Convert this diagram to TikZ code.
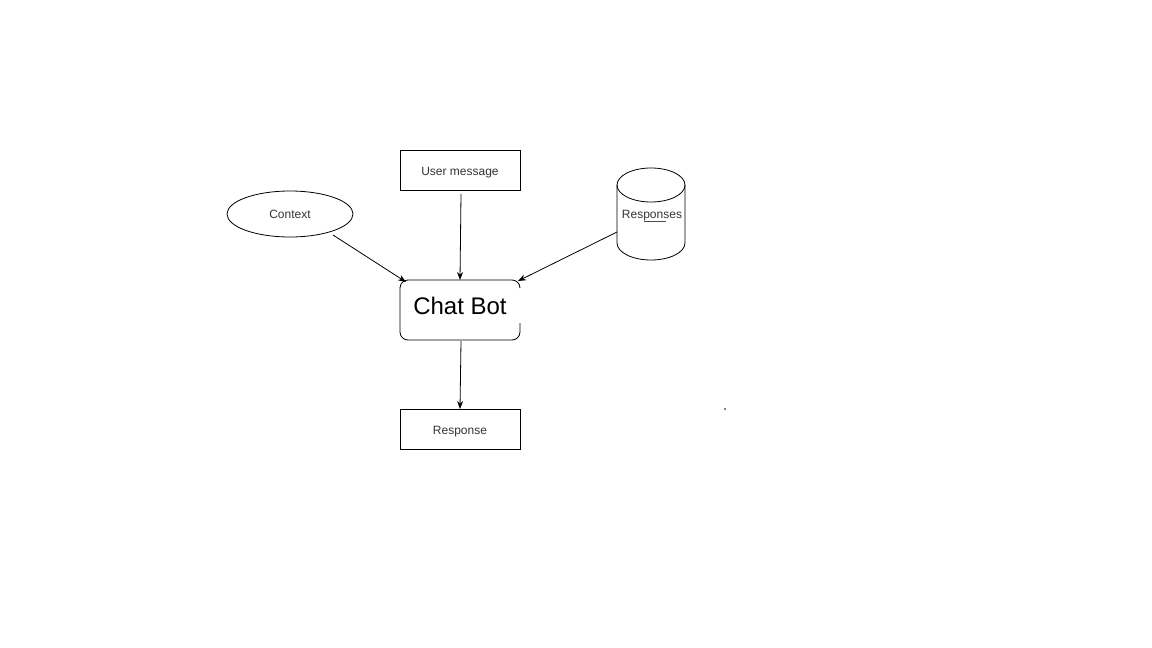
\documentclass[tikz,border=0pt]{standalone}
\usepackage{fontspec}
\setmainfont{Liberation Sans}
\usetikzlibrary{arrows.meta,shapes.geometric}
\newcommand{\lowtext}[2]{\raisebox{-#1}[0pt][0pt]{#2}}
\begin{document}
\begin{tikzpicture}[x=1pt,y=-1pt,
  lbl/.style={font=\fontsize{12}{14}\selectfont, text=black!80},
  boxnode/.style={draw, line width=0.8pt, minimum width=120pt, minimum height=40pt, inner sep=0pt, lbl},
  conn/.style={line width=0.8pt, -{Stealth[length=8pt,width=6pt]}},
  edge/.style={line width=0.8pt}]
\useasboundingbox (0,0) rectangle (1152,648);
\node[boxnode] (user) at (460,170) {\lowtext{5pt}{User message}};
\node[boxnode] (resp) at (460,429) {\lowtext{5pt}{Response}};
\node[draw, edge, ellipse, minimum width=126pt, minimum height=46pt, inner sep=0pt, lbl] (ctx) at (290,214) {\lowtext{4.5pt}{Context}};
\node[inner sep=0pt, font=\fontsize{24}{28}\selectfont] (bot) at (460,306) {Chat Bot};
% Chat Bot rounded box with gap on right side
\draw[edge, rounded corners=8pt] (520,323) -- (520,340) -- (400,340) -- (400,280) -- (520,280) -- (520,288);
% cylinder
\draw[edge, fill=white] (617,185) -- (617,243) arc[start angle=180,end angle=0,x radius=34,y radius=17] -- (685,185);
\draw[edge] (651,185) ellipse[x radius=34,y radius=17];
\node[inner sep=0pt, lbl] (db) at (652,216) {Responses};
\draw[line width=0.6pt, black!70] (644,221) -- (666,221);
% connector anchors
\coordinate (c1) at (333,235);
\coordinate (b1) at (406,282);
\coordinate (u1) at (461,194);
\coordinate (b2) at (460,280);
\coordinate (d1) at (617,232);
\coordinate (b3) at (518,281);
\coordinate (b4) at (461,341);
\coordinate (r1) at (460,409);
\draw[conn] (c1) -- (b1);
\draw[conn] (u1) -- (b2);
\draw[conn] (d1) -- (b3);
\draw[conn] (b4) -- (r1);
\fill (725,409) circle (0.8);
\end{tikzpicture}
\end{document}
